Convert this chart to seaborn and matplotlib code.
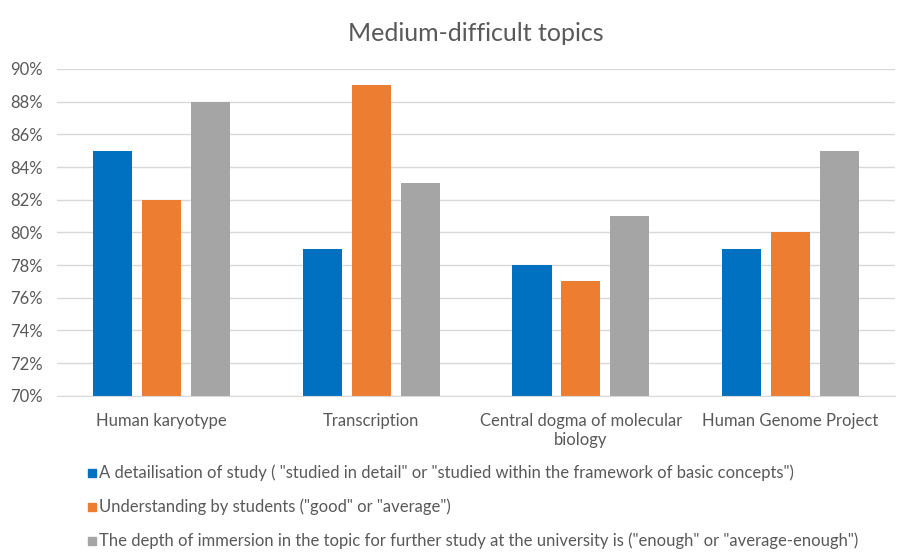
import numpy as np
import pandas as pd
import matplotlib
matplotlib.use("Agg")
import matplotlib.pyplot as plt
import matplotlib.lines as mlines
from matplotlib.ticker import MultipleLocator, FuncFormatter
import seaborn as sns

# ------------------------------------------
# Daten
# ------------------------------------------
topics = ["Human karyotype", "Transcription", "Central dogma of molecular\nbiology", "Human Genome Project"]
series_names = [
    'A detailisation of study ( "studied in detail" or "studied within the framework of basic concepts")',
    'Understanding by students ("good" or "average")',
    'The depth of immersion in the topic for further study at the university is ("enough" or "average-enough")',
]
detail_vals = [85, 79, 78, 79]
understanding_vals = [82, 89, 77, 80]
depth_vals = [88, 83, 81, 85]
colors = ["#0070C0", "#ED7D31", "#A5A5A5"]

df = pd.DataFrame({
    "topic": topics * 3,
    "series": [series_names[0]] * 4 + [series_names[1]] * 4 + [series_names[2]] * 4,
    "value": detail_vals + understanding_vals + depth_vals,
})

# ------------------------------------------
# Plot
# ------------------------------------------
sns.set_style("white")
plt.rcParams["font.family"] = ["Lato", "DejaVu Sans"]
text_col = "#595959"

fig = plt.figure(figsize=(8.99, 5.56), dpi=100)
ax = fig.add_axes([0.063, 0.288, 0.933, 0.588])

sns.barplot(data=df, x="topic", y="value", hue="series", palette=colors,
            width=0.7, gap=0.2, ax=ax, legend=False, saturation=1, linewidth=0)

ax.set_ylim(70, 90)
ax.yaxis.set_major_locator(MultipleLocator(2))
ax.yaxis.set_major_formatter(FuncFormatter(lambda v, p: f"{v:.0f}%"))
ax.grid(axis="y", color="#D9D9D9", linewidth=1)
ax.set_axisbelow(True)
for s in ax.spines.values():
    s.set_visible(False)
ax.spines["bottom"].set_visible(True)
ax.spines["bottom"].set_color("#D9D9D9")
ax.tick_params(axis="y", length=0, labelsize=12, colors=text_col, pad=10)
ax.tick_params(axis="x", length=0, labelsize=12, colors=text_col, pad=12)
for lbl in ax.get_xticklabels():
    lbl.set_linespacing(1.3)
ax.set_xlabel("")
ax.set_ylabel("")
ax.set_title("Medium-difficult topics", fontsize=18, color=text_col, pad=20)

handles = [mlines.Line2D([], [], color=c, marker="s", linestyle="None", markersize=6)
           for c in colors]
fig.legend(handles, series_names, loc="upper left", bbox_to_anchor=(0.088, 0.176),
           frameon=False, fontsize=12, labelcolor=text_col, handletextpad=0.1,
           handlelength=0.7, labelspacing=1.05, borderaxespad=0)

plt.savefig("out.png", dpi=100)
